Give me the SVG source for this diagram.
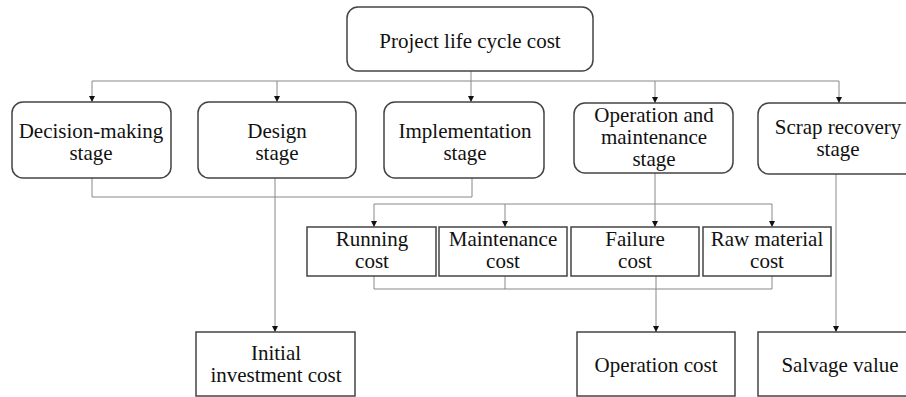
<svg xmlns="http://www.w3.org/2000/svg" width="906" height="397" viewBox="0 0 906 397">
<defs>
<marker id="arr" viewBox="0 0 10 10" refX="10" refY="5" markerWidth="6" markerHeight="6" markerUnits="userSpaceOnUse" orient="auto">
<path d="M0,0 L10,5 L0,10 Z" fill="#111"/>
</marker>
<style>
.box{fill:#fff;stroke:#444;stroke-width:1.5}
.ln{fill:none;stroke:#888;stroke-width:1}
.ar{fill:none;stroke:#888;stroke-width:1;marker-end:url(#arr)}
text{font-family:"Liberation Serif","Times New Roman",serif;font-size:21px;fill:#111;text-anchor:middle}
</style>
</defs>
<rect width="906" height="397" fill="#fff"/>
<g id="connectors">
<line class="ar" x1="471" y1="71" x2="471" y2="102"/>
<line class="ln" x1="92" y1="81" x2="839" y2="81"/>
<line class="ar" x1="92" y1="81" x2="92" y2="102"/>
<line class="ar" x1="277" y1="81" x2="277" y2="102"/>
<line class="ar" x1="655" y1="81" x2="655" y2="103"/>
<line class="ar" x1="839" y1="81" x2="839" y2="103"/>
<polyline class="ln" points="92,178 92,197 472,197 472,178"/>
<line class="ar" x1="275" y1="178" x2="275" y2="332"/>
<line class="ar" x1="655" y1="173" x2="655" y2="227"/>
<line class="ln" x1="374" y1="204" x2="772" y2="204"/>
<line class="ar" x1="374" y1="204" x2="374" y2="227"/>
<line class="ar" x1="505" y1="204" x2="505" y2="227"/>
<line class="ar" x1="772" y1="204" x2="772" y2="227"/>
<polyline class="ln" points="374,276 374,289 772,289 772,276"/>
<line class="ln" x1="505" y1="276" x2="505" y2="289"/>
<line class="ar" x1="656" y1="276" x2="656" y2="332"/>
<line class="ar" x1="836" y1="174" x2="836" y2="332"/>
</g>
<g id="project">
<rect class="box" x="347" y="7" width="246" height="64" rx="11"/>
<text x="470" y="48">Project life cycle cost</text>
</g>
<g id="decision">
<rect class="box" x="12" y="102" width="159" height="76" rx="11"/>
<text x="91" y="138">Decision-making</text>
<text x="91" y="160">stage</text>
</g>
<g id="design">
<rect class="box" x="198" y="102" width="158" height="76" rx="11"/>
<text x="277" y="138">Design</text>
<text x="277" y="160">stage</text>
</g>
<g id="implementation">
<rect class="box" x="384" y="102" width="160" height="76" rx="11"/>
<text x="465" y="138">Implementation</text>
<text x="465" y="160">stage</text>
</g>
<g id="operation">
<rect class="box" x="574" y="103" width="159" height="70" rx="11"/>
<text x="654" y="122">Operation and</text>
<text x="654" y="144">maintenance</text>
<text x="654" y="166">stage</text>
</g>
<g id="scrap">
<rect class="box" x="758" y="103" width="162" height="71" rx="11"/>
<text x="838" y="134">Scrap recovery</text>
<text x="838" y="156">stage</text>
</g>
<g id="running">
<rect class="box" x="307" y="227" width="129" height="49"/>
<text x="372" y="246">Running</text>
<text x="372" y="268">cost</text>
</g>
<g id="maintenance">
<rect class="box" x="439" y="227" width="128" height="49"/>
<text x="503" y="246">Maintenance</text>
<text x="503" y="268">cost</text>
</g>
<g id="failure">
<rect class="box" x="571" y="227" width="128" height="49"/>
<text x="635" y="246">Failure</text>
<text x="635" y="268">cost</text>
</g>
<g id="rawmaterial">
<rect class="box" x="703" y="227" width="128" height="49"/>
<text x="767" y="246">Raw material</text>
<text x="767" y="268">cost</text>
</g>
<g id="initial">
<rect class="box" x="196" y="332" width="159" height="64"/>
<text x="276" y="360">Initial</text>
<text x="276" y="382">investment cost</text>
</g>
<g id="operationcost">
<rect class="box" x="577" y="332" width="158" height="64"/>
<text x="656" y="372">Operation cost</text>
</g>
<g id="salvage">
<rect class="box" x="758" y="332" width="164" height="64"/>
<text x="840" y="372">Salvage value</text>
</g>
</svg>
